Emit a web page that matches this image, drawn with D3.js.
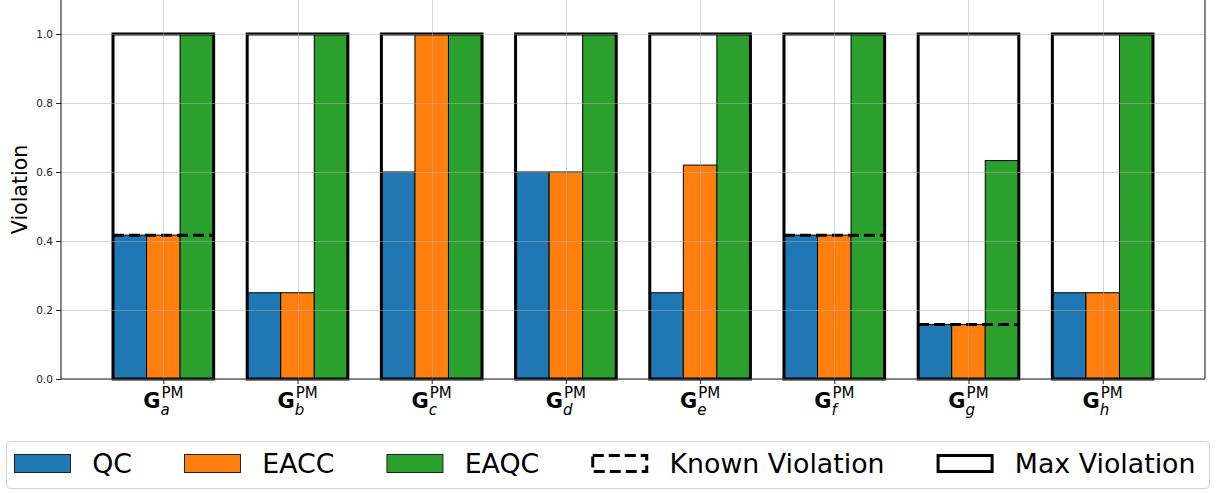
<!DOCTYPE html>
<html>
<head>
<meta charset="utf-8">
<script src="https://cdn.jsdelivr.net/npm/d3@7"></script>
<style>
	body { margin: 0; background: #fff; }
	svg { display: block; font-family: "DejaVu Sans", sans-serif; }
</style>
</head>
<body>
<svg id="chart" width="1216" height="493"></svg>
<script>
// subscripts of G^PM
var categories = ["a", "b", "c", "d", "e", "f", "g", "h"];

var qcValues   = [0.417, 0.25, 0.6, 0.6, 0.25, 0.417, 0.158, 0.25];
var eaccValues = [0.417, 0.25, 1.0, 0.6, 0.62, 0.417, 0.158, 0.25];
var eaqcValues = [1.0, 1.0, 1.0, 1.0, 1.0, 1.0, 0.633, 1.0];
var knownViolation = [0.417, null, null, null, null, 0.417, 0.158, null];
var maxViolation = [1.0, 1.0, 1.0, 1.0, 1.0, 1.0, 1.0, 1.0];

var yTicks = [0.0, 0.2, 0.4, 0.6, 0.8, 1.0];

var seriesNames = ["QC", "EACC", "EAQC"];
var seriesColors = ["#1f77b4", "#ff7f0e", "#2ca02c"];
var seriesValues = [qcValues, eaccValues, eaqcValues];

function drawChart() {
	var svg = d3.select("#chart");
	var left = 61, right = 1205, bottom = 379;
	var barW = 0.25;

	var x = d3.scaleLinear().domain([-0.7625, 7.7625]).range([left, right]);
	var y = d3.scaleLinear().domain([0, 1.1]).range([bottom, -0.5]);

	var plot = svg.append("g");

	// bars
	seriesValues.forEach(function (vals, s) {
		plot.selectAll(null).data(vals).enter().append("rect")
			.attr("x", function (d, i) { return x(i + (s - 1) * barW - barW / 2); })
			.attr("y", function (d) { return y(d); })
			.attr("width", x(barW) - x(0))
			.attr("height", function (d) { return y(0) - y(d); })
			.attr("fill", seriesColors[s])
			.attr("stroke", "#000")
			.attr("stroke-width", 1);
	});

	// max violation frames
	plot.selectAll(null).data(maxViolation).enter().append("rect")
		.attr("x", function (d, i) { return x(i - 1.5 * barW); })
		.attr("y", function (d) { return y(d); })
		.attr("width", x(3 * barW) - x(0))
		.attr("height", function (d) { return y(0) - y(d); })
		.attr("fill", "none")
		.attr("stroke", "#000")
		.attr("stroke-width", 3);

	// known violation
	plot.selectAll(null).data(knownViolation.map(function (v, i) { return {i: i, v: v}; })
			.filter(function (d) { return d.v !== null; }))
		.enter().append("line")
		.attr("x1", function (d) { return x(d.i - 1.5 * barW); })
		.attr("x2", function (d) { return x(d.i + 1.5 * barW); })
		.attr("y1", function (d) { return y(d.v); })
		.attr("y2", function (d) { return y(d.v); })
		.attr("stroke", "#000")
		.attr("stroke-width", 3)
		.attr("stroke-dasharray", "11,5");

	// grid (drawn over bars)
	var grid = svg.append("g").attr("stroke", "#b0b0b0").attr("stroke-opacity", 0.5).attr("stroke-width", 1);
	grid.selectAll(null).data(yTicks).enter().append("line")
		.attr("x1", left).attr("x2", right)
		.attr("y1", function (d) { return Math.round(y(d)) + 0.5; })
		.attr("y2", function (d) { return Math.round(y(d)) + 0.5; });
	grid.selectAll(null).data(categories).enter().append("line")
		.attr("x1", function (d, i) { return Math.round(x(i)) + 0.5; })
		.attr("x2", function (d, i) { return Math.round(x(i)) + 0.5; })
		.attr("y1", 0).attr("y2", bottom);

	// axes
	var yAxis = svg.append("g")
		.attr("transform", "translate(" + left + ",0)")
		.call(d3.axisLeft(y).tickValues(yTicks).tickFormat(d3.format(".1f")).tickSize(5).tickPadding(3));
	yAxis.select(".domain").remove();
	yAxis.selectAll("text").attr("font-size", 10.5).attr("fill", "#222").attr("font-family", "DejaVu Sans");
	yAxis.selectAll("line").attr("stroke", "#222");

	var xAxis = svg.append("g")
		.attr("transform", "translate(0," + bottom + ")")
		.call(d3.axisBottom(x).tickValues(d3.range(categories.length)).tickFormat("").tickSize(5));
	xAxis.select(".domain").remove();
	xAxis.selectAll("line").attr("stroke", "#222");

	var spines = svg.append("g").attr("stroke", "#222").attr("stroke-width", 1.1).attr("fill", "none");
	spines.append("line").attr("x1", left).attr("x2", left).attr("y1", 0).attr("y2", bottom);
	spines.append("line").attr("x1", right).attr("x2", right).attr("y1", 0).attr("y2", bottom);
	spines.append("line").attr("x1", left).attr("x2", right).attr("y1", bottom).attr("y2", bottom);

	// x tick labels: bold G, italic subscript, PM superscript
	categories.forEach(function (c, i) {
		var g = svg.append("g");
		var gT = g.append("text").text("G").attr("font-size", 21).attr("font-weight", "bold")
			.attr("y", 408).attr("fill", "#000");
		var wG = gT.node().getComputedTextLength();
		var sup = g.append("text").text("PM").attr("font-size", 15).attr("y", 398).attr("fill", "#000");
		var wS = sup.node().getComputedTextLength();
		var x0 = x(i) - (wG + 1 + wS) / 2;
		gT.attr("x", x0);
		sup.attr("x", x0 + wG + 1);
		g.append("text").text(c).attr("font-size", 15).attr("font-style", "italic")
			.attr("x", x0 + wG).attr("y", 415).attr("fill", "#000");
	});

	// y label
	svg.append("text").text("Violation")
		.attr("transform", "translate(27," + (bottom / 2) + ") rotate(-90)")
		.attr("text-anchor", "middle").attr("font-size", 20.5).attr("fill", "#000");

	// legend
	var fs = 26.8;
	var textPad = 21.2, colSpacing = 52;
	var legend = svg.append("g");
	legend.append("rect").attr("x", 6.5).attr("y", 441.5).attr("width", 1203).attr("height", 47)
		.attr("rx", 4).attr("fill", "#fff").attr("stroke", "#d5d5d5").attr("stroke-width", 1);
	var items = seriesNames.map(function (n, s) { return {name: n, type: "bar", color: seriesColors[s]}; });
	items.push({name: "Known Violation", type: "known"});
	items.push({name: "Max Violation", type: "max"});

	var lx = 14;
	var hw = 57, hh = 19, hy = 454;
	items.forEach(function (it) {
		if (it.type === "bar") {
			legend.append("rect").attr("x", lx + 0.5).attr("y", hy + 0.5).attr("width", hw - 1).attr("height", hh - 1)
				.attr("fill", it.color).attr("stroke", "#222").attr("stroke-width", 1);
		} else if (it.type === "known") {
			legend.append("rect").attr("x", lx + 1.5).attr("y", hy + 1.5).attr("width", hw - 3).attr("height", hh - 3)
				.attr("fill", "none").attr("stroke", "#000").attr("stroke-width", 3).attr("stroke-dasharray", "11,5");
		} else {
			legend.append("rect").attr("x", lx + 1.5).attr("y", hy + 1.5).attr("width", hw - 3).attr("height", hh - 3)
				.attr("fill", "none").attr("stroke", "#000").attr("stroke-width", 3);
		}
		var t = legend.append("text").text(it.name).attr("x", lx + hw + textPad).attr("y", 473)
			.attr("font-size", fs).attr("fill", "#000");
		lx = lx + hw + textPad + t.node().getComputedTextLength() + colSpacing;
	});
}

drawChart();
</script>
</body>
</html>
